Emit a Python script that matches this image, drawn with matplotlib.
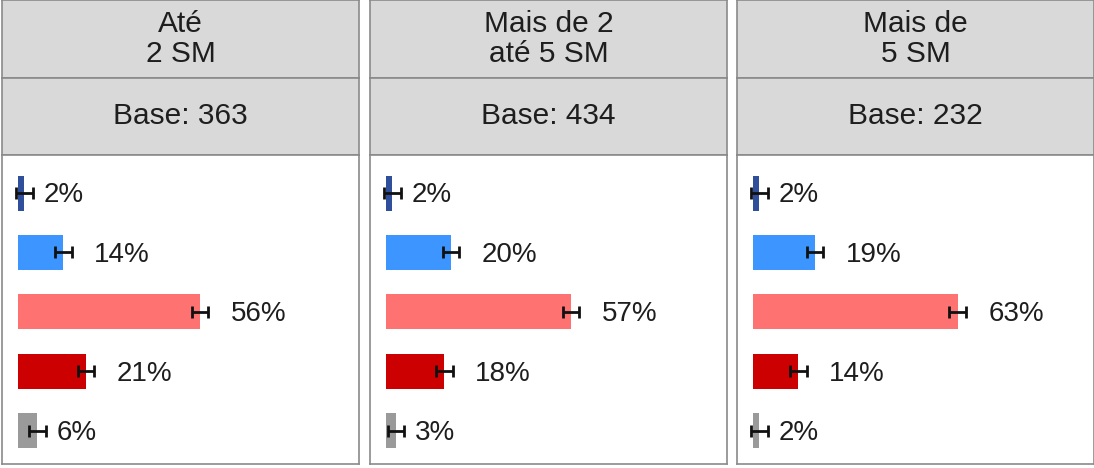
import numpy as np
import matplotlib.pyplot as plt

plt.rcParams['font.family'] = ['Liberation Sans', 'DejaVu Sans']

# dados
grupos = ['Até\n2 SM', 'Mais de 2\naté 5 SM', 'Mais de\n5 SM']
bases = [363, 434, 232]
valores = [
    [2, 14, 56, 21, 6],
    [2, 20, 57, 18, 3],
    [2, 19, 63, 14, 2],
]
erros = [
    [2.5, 2.5, 2.5, 2.5, 2.5],
    [2.5, 2.5, 2.5, 2.5, 2.5],
    [2.5, 2.5, 2.5, 2.5, 2.5],
]
cores = ['#2f4f9a', '#3d96ff', '#ff7272', '#cc0000', '#9a9a9a']

W, H = 1094, 468
fig = plt.figure(figsize=(W / 100, H / 100), dpi=100)

borda = '#8a8a8a'
cinza = '#d9d9d9'
lefts = [2, 370, 737]
largura = 357
linhas = [(0, 78), (78, 155), (155, 464)]


def eixo(x0, y0, y1):
    return fig.add_axes([x0 / W, 1 - y1 / H, largura / W, (y1 - y0) / H])


def estilo(ax):
    ax.set_xticks([])
    ax.set_yticks([])
    for s in ax.spines.values():
        s.set_color(borda)
        s.set_linewidth(1.2)


for g in range(3):
    x0 = lefts[g]
    # titulo
    ax = eixo(x0, *linhas[0])
    ax.set_facecolor(cinza)
    estilo(ax)
    ax.text(0.5, 0.5, grupos[g], ha='center', va='center', fontsize=21.5,
            linespacing=1.05, color='#1e1e1e', transform=ax.transAxes)
    # base
    ax = eixo(x0, *linhas[1])
    ax.set_facecolor(cinza)
    estilo(ax)
    ax.text(0.5, 0.5, f'Base: {bases[g]}', ha='center', va='center', fontsize=21.5,
            color='#1e1e1e', transform=ax.transAxes)
    # barras
    ax = eixo(x0, *linhas[2])
    estilo(ax)
    y = np.arange(5)
    v = np.array(valores[g])
    e = np.array(erros[g])
    ax.barh(y, v, height=0.59, color=cores)
    ax.errorbar(v, y, xerr=e, fmt='none', ecolor='#111111', elinewidth=2,
                capsize=4.5, capthick=2)
    for yi, vi, ei in zip(y, v, e):
        gap = 3.5 if vi < 10 else 7
        ax.text(vi + ei + gap, yi + 0.04, f'{vi}%', ha='left', va='center',
                fontsize=20, color='#1e1e1e')
    ax.set_xlim(-4.9, 105)
    ax.set_ylim(4.56, -0.64)

fig.savefig('out.png', dpi=100)
